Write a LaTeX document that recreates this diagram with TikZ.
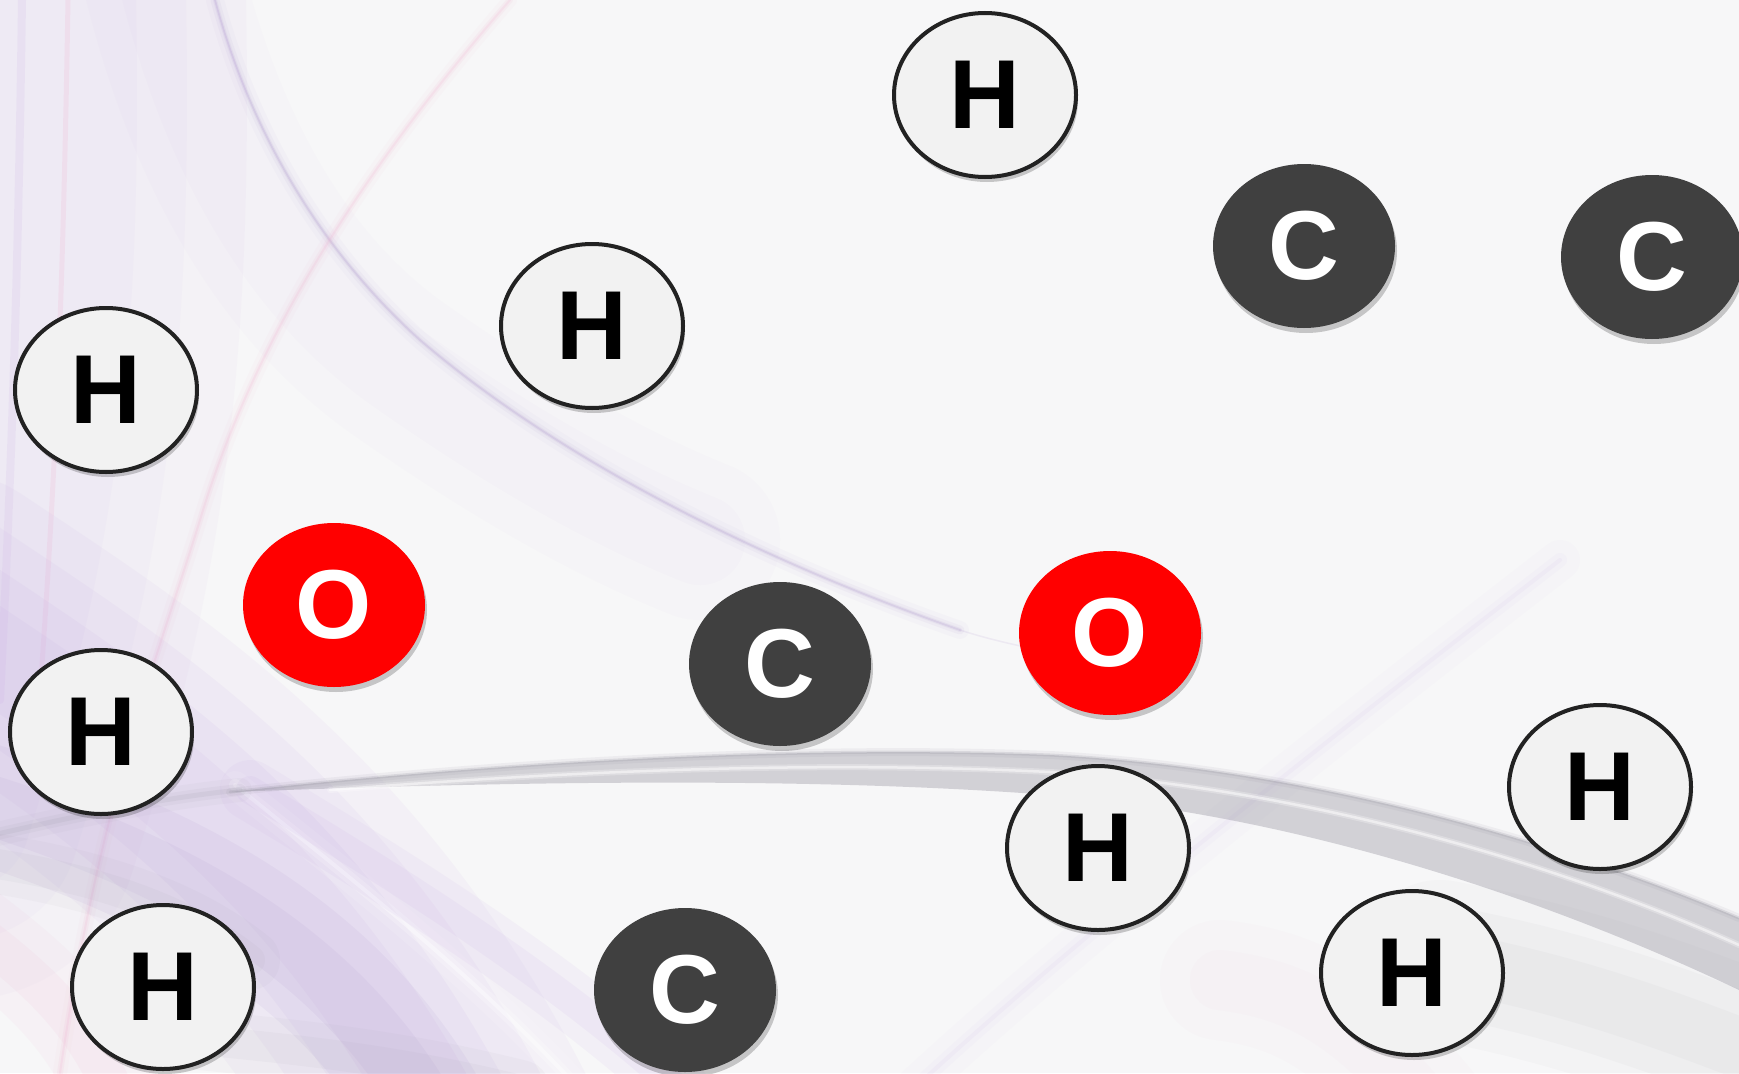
\documentclass[tikz,border=0pt]{standalone}
\usepackage{fontspec}
\setmainfont{Liberation Sans}
\usetikzlibrary{shapes.geometric,shadows}
\definecolor{bgc}{RGB}{247,247,248}
\definecolor{lav}{RGB}{196,168,228}
\definecolor{lavd}{RGB}{165,140,200}
\definecolor{pinkc}{RGB}{240,180,210}
\definecolor{band}{RGB}{150,148,160}
\definecolor{hfill}{RGB}{242,242,242}
\definecolor{hline}{RGB}{34,34,34}
\definecolor{cfill}{RGB}{64,64,64}
\definecolor{ofill}{RGB}{255,0,0}
\begin{document}
\begin{tikzpicture}[x=1pt,y=-1pt,
  atom/.style={ellipse, minimum width=182pt, minimum height=164pt, inner sep=0pt,
    font=\fontsize{98}{98}\selectfont\bfseries,
    drop shadow={shadow xshift=2pt, shadow yshift=-5pt, opacity=0.2, fill=black}},
  hatom/.style={atom, fill=hfill, draw=hline, line width=4pt, text=black},
  catom/.style={atom, fill=cfill, text=white},
  oatom/.style={atom, fill=ofill, text=white}]
\useasboundingbox (0,0) rectangle (1739,1073);
\begin{scope}[line cap=round]
\clip (0,0) rectangle (1739,1073);
% paper background
\fill[bgc] (0,0) rectangle (1739,1073);
% soft lavender tint along the left edge
\foreach \w/\o in {360/0.05,240/0.05,140/0.05}
  \draw[lav, line width=\w pt, opacity=\o] (60,-200) .. controls (80,300) and (60,500) .. (-40,820);
\foreach \w/\o in {160/0.03,90/0.04}
  \draw[lav, line width=\w pt, opacity=\o] (150,-80) .. controls (200,170) and (300,300) .. (400,370)
    .. controls (500,440) and (600,500) .. (700,540);
% thin lines near the left edge
\draw[lav, line width=8pt, opacity=0.14] (22,0) .. controls (18,300) and (10,500) .. (0,700);
\draw[pinkc, line width=5pt, opacity=0.22] (68,0) .. controls (63,300) and (55,500) .. (35,760);
% main lavender swoosh from the top
\foreach \w/\o in {18/0.04,9/0.07,4/0.10,1.8/0.2}
  \draw[lavd, line width=\w pt, opacity=\o] (215,0) .. controls (250,130) and (320,250) .. (420,340)
    .. controls (560,460) and (760,560) .. (960,630);
\draw[lavd, line width=1.5pt, opacity=0.12] (960,630) .. controls (1000,643) and (1040,650) .. (1080,658);
% pink diagonal
\foreach \w/\o in {14/0.06,6/0.12,2/0.2}
  \draw[pinkc, line width=\w pt, opacity=\o] (510,0) .. controls (380,150) and (260,320) .. (200,520)
    .. controls (160,650) and (100,800) .. (60,1073);
% purple sweep at the bottom left
\foreach \w/\o in {300/0.08,220/0.09,150/0.10,90/0.10}
  \draw[lav, line width=\w pt, opacity=\o] (-60,620) .. controls (120,740) and (330,870) .. (480,1200);
\foreach \w/\o in {120/0.09,60/0.09}
  \draw[lavd, line width=\w pt, opacity=\o] (-60,790) .. controls (180,860) and (380,960) .. (470,1200);
\foreach \w/\o in {28/0.12,12/0.22,4/0.4}
  \draw[white, line width=\w pt, opacity=\o] (235,785) .. controls (340,870) and (470,970) .. (580,1090);
\foreach \w/\o in {60/0.09,28/0.10}
  \draw[lav, line width=\w pt, opacity=\o] (250,790) .. controls (400,880) and (560,980) .. (690,1100);
\foreach \w/\o in {90/0.08,40/0.10}
  \draw[pinkc, line width=\w pt, opacity=\o] (-40,920) .. controls (40,980) and (100,1030) .. (130,1140);
\foreach \w/\o in {60/0.05,30/0.06}
  \draw[band, line width=\w pt, opacity=\o] (-30,860) .. controls (120,880) and (200,920) .. (250,960);
\foreach \w/\o in {60/0.05,30/0.06}
  \draw[band, line width=\w pt, opacity=\o] (200,1040) .. controls (300,1050) and (400,1060) .. (520,1090);
% faint swoosh rising to the right
\foreach \w/\o in {40/0.03,14/0.05,4/0.08}
  \draw[lav, line width=\w pt, opacity=\o] (880,1120) .. controls (1050,960) and (1250,800) .. (1560,560);
% grey band across the lower half
\foreach \w/\o in {24/0.05,12/0.08,5/0.12}
  \draw[band, line width=\w pt, opacity=\o] (-20,838) .. controls (80,815) and (160,798) .. (240,790);
\fill[band, opacity=0.38] (230,792) .. controls (500,762) and (800,745) .. (1050,755)
  .. controls (1300,768) and (1550,838) .. (1739,918) -- (1739,990)
  .. controls (1550,900) and (1300,815) .. (1050,795)
  .. controls (800,776) and (500,782) .. (230,792) -- cycle;
\foreach \w/\o in {8/0.10,3/0.22}
  \draw[band, line width=\w pt, opacity=\o] (230,792) .. controls (500,762) and (800,745) .. (1050,755)
  .. controls (1300,768) and (1550,838) .. (1739,918);
\foreach \w/\o in {6/0.25,2.5/0.5}
  \draw[white, line width=\w pt, opacity=\o] (330,790) .. controls (560,772) and (800,760) .. (1050,772)
    .. controls (1300,788) and (1550,860) .. (1739,945);
% soft grey shade under the band on the right
\foreach \w/\o in {160/0.04,110/0.05,60/0.05}
  \draw[band, line width=\w pt, opacity=\o] (1440,960) .. controls (1550,980) and (1650,1010) .. (1820,1080);
\foreach \w/\o in {120/0.04,60/0.04}
  \draw[pinkc, line width=\w pt, opacity=\o] (1220,980) .. controls (1300,990) and (1360,1020) .. (1450,1140);
\end{scope}
% atoms
\node[hatom] (h1) at (985,95) {H};
\node[catom] (c1) at (1304,246) {C};
\node[catom] (c2) at (1652,257) {C};
\node[hatom] (h2) at (592,326) {H};
\node[hatom] (h3) at (106,390) {H};
\node[oatom] (o1) at (334,605) {O};
\node[catom] (c3) at (780,664) {C};
\node[oatom] (o2) at (1110,633) {O};
\node[hatom] (h4) at (101,732) {H};
\node[hatom] (h5) at (1098,848) {H};
\node[hatom] (h6) at (1600,787) {H};
\node[hatom] (h7) at (1412,973) {H};
\node[hatom] (h8) at (163,987) {H};
\node[catom] (c4) at (685,990) {C};
\end{tikzpicture}
\end{document}
